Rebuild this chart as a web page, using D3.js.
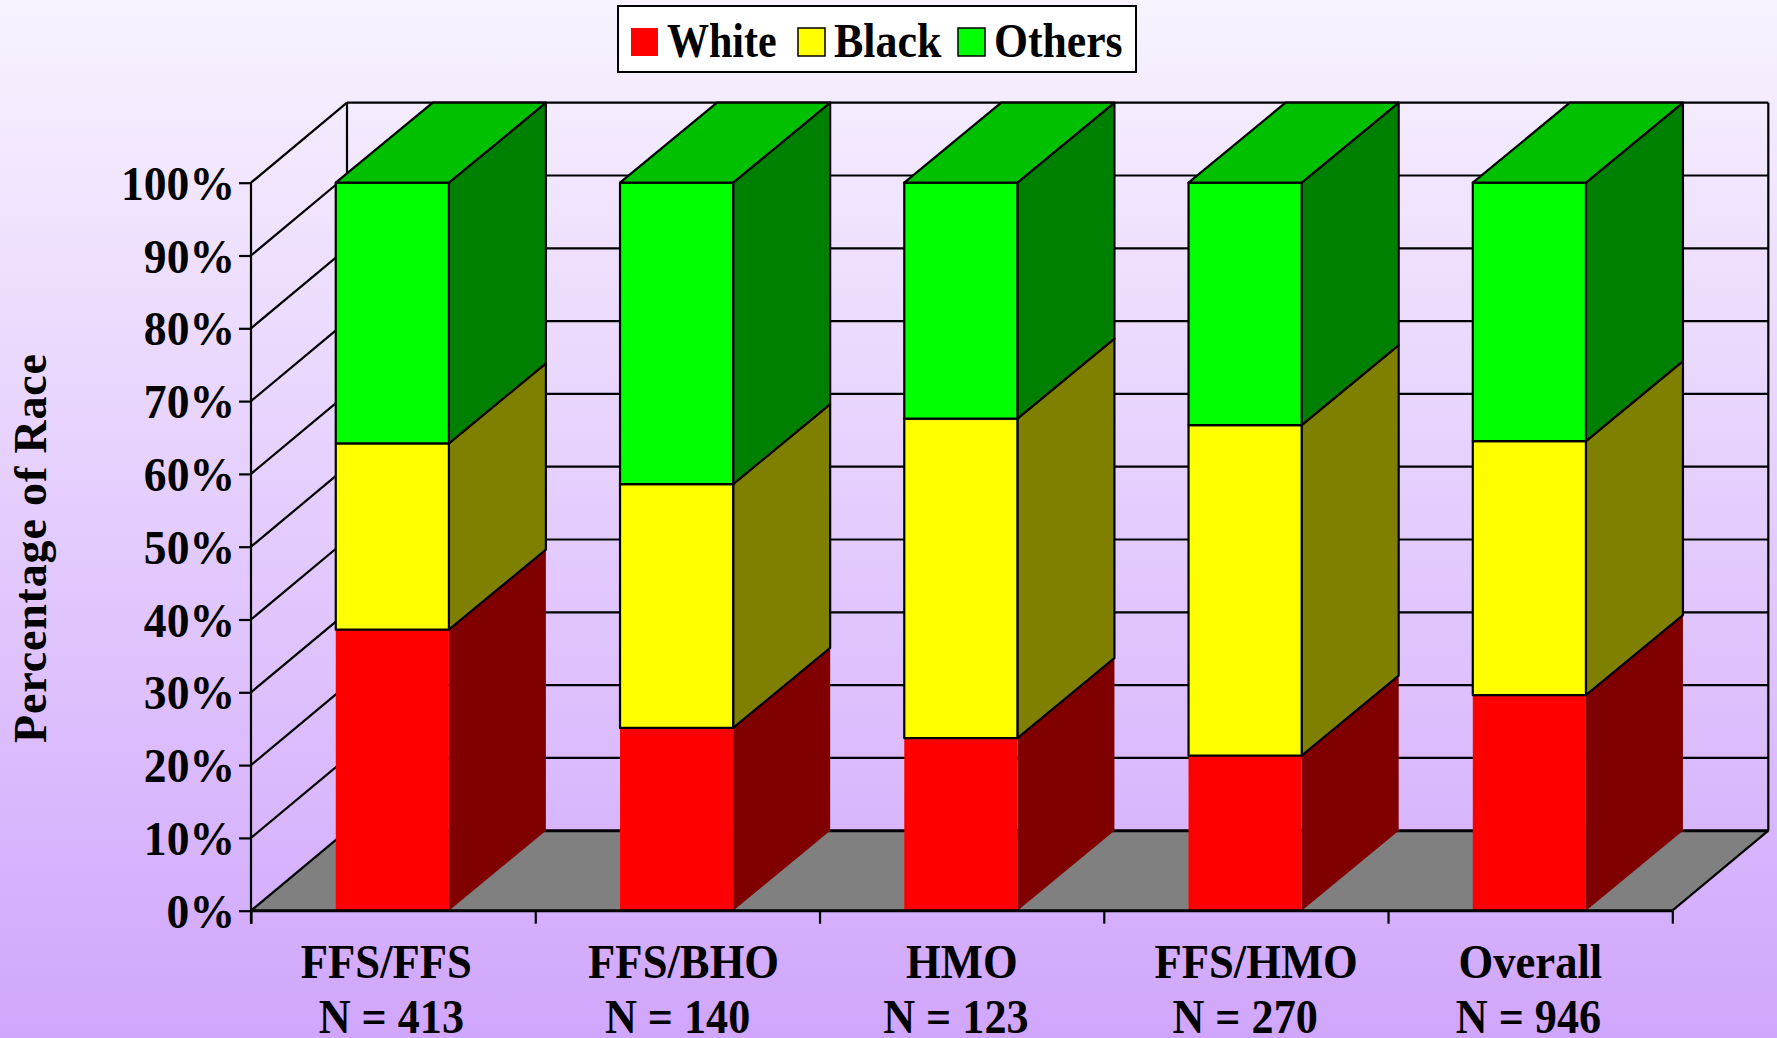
<!DOCTYPE html>
<html><head><meta charset="utf-8">
<script src="https://cdn.jsdelivr.net/npm/d3@7"></script>
<style>html,body{margin:0;padding:0;background:#d0a8fc;overflow:hidden}
text{font-family:"Liberation Serif",serif;font-weight:bold;fill:#000}</style></head>
<body><svg id="c" width="1777" height="1038"></svg>
<script>
const categories=["FFS/FFS","FFS/BHO","HMO","FFS/HMO","Overall"];
const sampleSizes=["N = 413","N = 140","N = 123","N = 270","N = 946"];
const white=[38.6,25.1,23.7,21.3,29.6];
const black=[25.6,33.5,43.9,45.4,34.9];
const others=[35.8,41.4,32.4,33.3,35.5];
const seriesNames=["White","Black","Others"];
const seriesValues=[white,black,others];
const frontColors=["#ff0000","#ffff00","#00ff00"];
const sideColors=["#800000","#808000","#008000"];
const strokes=[null,"#000","#000"];
const yTicks=[0,10,20,30,40,50,60,70,80,90,100];
// label placement, px
const catLabelShift=[-6,7,1,11,1];
const nLabelShift=[-1,1,-5,0,-1];
const legendX=[631,798,958];
const legendSx=[0.875,0.915,0.91];

const svg=d3.select("#c");
const defs=svg.append("defs");
const g=defs.append("linearGradient").attr("id","bg").attr("x1",0).attr("y1",0).attr("x2",0).attr("y2",1);
g.append("stop").attr("offset",0).attr("stop-color","#f8f3fe");
g.append("stop").attr("offset",1).attr("stop-color","#d0a6fc");
svg.append("rect").attr("width",1777).attr("height",1038).attr("fill","url(#bg)");

const x0=251,x1=1672.3,y0=910.7,y100=182.7,dx=96,dy=-80,barDx=97;
const y=d3.scaleLinear().domain([0,100]).range([y0,y100]);
const xb=d3.scaleBand().domain(categories).range([x0-0.8,x1-0.8]).paddingInner(0.602).paddingOuter(0.301);
const xt=d3.scaleLinear().domain([0,5]).range([x0,x1]);
const sw=2.2;

svg.append("polygon").attr("fill","#808080")
 .attr("points",[[x0,y0],[x1,y0],[x1+dx,y0+dy],[x0+dx,y0+dy]].join(" "));
const grid=svg.append("g").attr("stroke","#000").attr("stroke-width",sw).attr("fill","none");
grid.selectAll("line.b").data(yTicks).join("line").attr("class","b")
 .attr("x1",x0+dx).attr("x2",x1+dx).attr("y1",d=>y(d)+dy).attr("y2",d=>y(d)+dy)
 .attr("stroke-width",d=>d===0?3:sw);
grid.selectAll("line.s").data(yTicks).join("line").attr("class","s")
 .attr("x1",x0).attr("x2",x0+dx).attr("y1",d=>y(d)).attr("y2",d=>y(d)+dy);
grid.append("line").attr("x1",x0+dx).attr("x2",x0+dx).attr("y1",y(100)+dy).attr("y2",y(0)+dy);
grid.append("line").attr("x1",x1+dx).attr("x2",x1+dx).attr("y1",y(100)+dy).attr("y2",y(0)+dy);
grid.append("line").attr("x1",x1).attr("x2",x1+dx).attr("y1",y0).attr("y2",y0+dy);

categories.forEach((c,i)=>{
  const bx=xb(c),bw=xb.bandwidth();
  let base=0;
  seriesValues.forEach((vals,s)=>{
    const top=base+vals[i];
    const yb=y(base),yt=y(top);
    const st=strokes[s];
    const bar=svg.append("g").attr("stroke",st||"none").attr("stroke-width",sw).attr("stroke-linejoin","round");
    bar.append("polygon").attr("fill",sideColors[s])
      .attr("points",[[bx+bw,yb],[bx+bw,yt],[bx+bw+barDx,yt+dy],[bx+bw+barDx,yb+dy]].join(" "));
    bar.append("rect").attr("x",bx).attr("y",yt).attr("width",bw).attr("height",yb-yt).attr("fill",frontColors[s]);
    if(s===2) bar.append("polygon").attr("fill","#00c000")
      .attr("points",[[bx,yt],[bx+bw,yt],[bx+bw+barDx,yt+dy],[bx+barDx,yt+dy]].join(" "));
    base=top;
  });
});

const ya=svg.append("g").attr("transform",`translate(${x0},0)`)
 .call(d3.axisLeft(y).tickValues(yTicks).tickSize(12).tickPadding(0).tickFormat(d=>d+"%"));
ya.selectAll("path,line").attr("stroke","#000").attr("stroke-width",sw);
ya.select("path").attr("d",`M0,${y100}V${y0+13}`);
ya.selectAll("text").remove();
const xa=svg.append("g").attr("transform",`translate(0,${y0})`)
 .call(d3.axisBottom(xt).tickValues([0,1,2,3,4,5]).tickSize(13).tickFormat(""));
xa.selectAll("path,line").attr("stroke","#000").attr("stroke-width",sw);
xa.select("path").attr("d",`M${x0},0H${x1}`).attr("stroke-width",3);

function label(txt,xp,yp,size,sx,anchor){
  return svg.append("text").attr("transform",`translate(${xp},${yp}) scale(${sx},1)`)
   .attr("text-anchor",anchor).attr("font-size",size).text(txt);
}
yTicks.forEach(t=>label(t+"%",235,y(t)+17,48,0.95,"end"));
categories.forEach((c,i)=>{
  const cx=xb(c)+xb.bandwidth()/2;
  label(c,cx+catLabelShift[i],978,48,0.93,"middle");
  label(sampleSizes[i],cx+nLabelShift[i],1033,48,0.92,"middle");
});
svg.append("text").attr("transform","translate(46,743) rotate(-90)")
 .attr("font-size",46).attr("textLength",389).attr("lengthAdjust","spacing").text("Percentage of Race");

const lg=svg.append("g");
lg.append("rect").attr("x",618).attr("y",6).attr("width",518).attr("height",66).attr("fill","#fff").attr("stroke","#000").attr("stroke-width",2);
seriesNames.forEach((n,i)=>{
  lg.append("rect").attr("x",legendX[i]).attr("y",28).attr("width",27).attr("height",28)
   .attr("fill",frontColors[i]).attr("stroke",strokes[i]||"none").attr("stroke-width",1.5);
  label(n,legendX[i]+36,57,48,legendSx[i],"start");
});
</script></body></html>
